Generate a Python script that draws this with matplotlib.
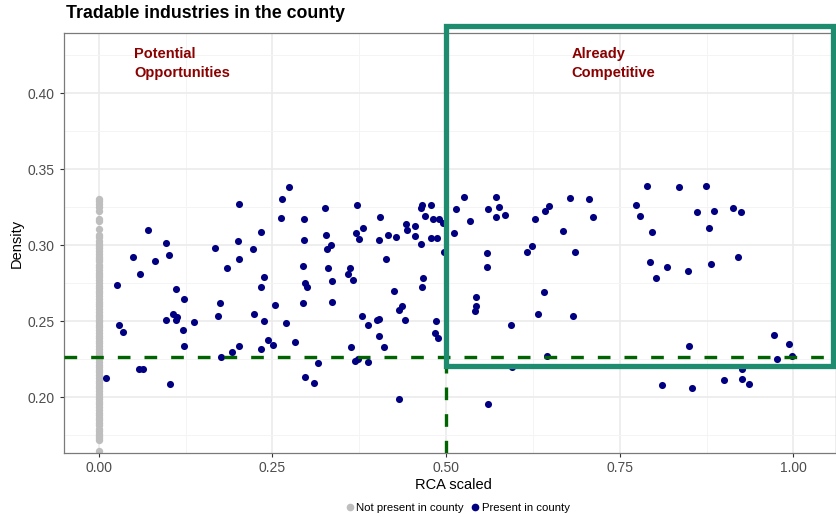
import numpy as np
import matplotlib
matplotlib.use("Agg")
import matplotlib.pyplot as plt
from matplotlib.patches import Rectangle
from matplotlib.lines import Line2D

plt.rcParams['font.family'] = ['Liberation Sans', 'DejaVu Sans']

# industries present in the county (RCA scaled, density)
present_rca = [
    0.0102, 0.0262, 0.0289, 0.0347, 0.0489, 0.0584, 0.0638, 0.0599, 0.0705, 0.0806,
    0.0973, 0.1015, 0.0969, 0.1031, 0.1062, 0.1120, 0.1108, 0.1113, 0.1231, 0.1218,
    0.1228, 0.1375, 0.1674, 0.1710, 0.1749, 0.1753, 0.1840, 0.1914, 0.1998, 0.2024,
    0.2022, 0.2024, 0.2214, 0.2233, 0.2339, 0.2343, 0.2377, 0.2372, 0.2343, 0.2441,
    0.2505, 0.2541, 0.2620, 0.2641, 0.2739, 0.2696, 0.2830, 0.2941, 0.2958, 0.2960,
    0.2967, 0.2991, 0.2944, 0.2965, 0.3102, 0.3157, 0.3250, 0.3275, 0.3340, 0.3289,
    0.3296, 0.3351, 0.3355, 0.3589, 0.3622, 0.3665, 0.3636, 0.3699, 0.3743, 0.3718,
    0.3689, 0.3725, 0.3797, 0.3794, 0.3876, 0.3881, 0.4002, 0.4028, 0.4035, 0.4045,
    0.4035, 0.4104, 0.4138, 0.4157, 0.4248, 0.4282, 0.4326, 0.4327, 0.4363, 0.4405,
    0.4419, 0.4442, 0.4549, 0.4557, 0.4632, 0.4644, 0.4657, 0.4788, 0.4701, 0.4657,
    0.4675, 0.4816, 0.4896, 0.4949, 0.4783, 0.4873, 0.4966, 0.4848, 0.4837, 0.4877,
    0.5148, 0.5263, 0.5338, 0.5119, 0.5597, 0.5722, 0.5765, 0.5716, 0.5853, 0.5590,
    0.5585, 0.5427, 0.5431, 0.5421, 0.5932, 0.5946, 0.5607, 0.6161, 0.6240, 0.6280,
    0.6427, 0.6475, 0.6410, 0.6326, 0.6457, 0.6676, 0.6791, 0.7051, 0.7112, 0.6849,
    0.6823, 0.7737, 0.7792, 0.7893, 0.7969, 0.7940, 0.8015, 0.8176, 0.8112, 0.8349,
    0.8487, 0.8493, 0.8536, 0.8612, 0.8742, 0.8781, 0.8857, 0.8818, 0.9001, 0.9130,
    0.9241, 0.9200, 0.9260, 0.9260, 0.9365, 0.9725, 0.9767, 0.9937, 0.9973,
]
present_density = [
    0.2130, 0.2736, 0.2476, 0.2430, 0.2923, 0.2184, 0.2184, 0.2814, 0.3101, 0.2900,
    0.3013, 0.2936, 0.2507, 0.2091, 0.2548, 0.2530, 0.2512, 0.2712, 0.2645, 0.2446,
    0.2338, 0.2495, 0.2984, 0.2535, 0.2622, 0.2268, 0.2853, 0.2300, 0.3028, 0.3275,
    0.2907, 0.2339, 0.2974, 0.2548, 0.3086, 0.2726, 0.2791, 0.2501, 0.2318, 0.2376,
    0.2342, 0.2607, 0.3178, 0.3305, 0.3386, 0.2487, 0.2364, 0.2865, 0.3171, 0.3033,
    0.2750, 0.2729, 0.2619, 0.2136, 0.2097, 0.2226, 0.3245, 0.3066, 0.3003, 0.2974,
    0.2849, 0.2768, 0.2625, 0.2810, 0.2851, 0.2772, 0.2330, 0.3080, 0.3043, 0.3265,
    0.2242, 0.2253, 0.3111, 0.2537, 0.2474, 0.2234, 0.2509, 0.2518, 0.2405, 0.3186,
    0.3033, 0.2330, 0.2913, 0.3070, 0.2699, 0.3053, 0.1990, 0.2576, 0.2599, 0.2511,
    0.3140, 0.3099, 0.3063, 0.3128, 0.3012, 0.3243, 0.3265, 0.3263, 0.3194, 0.2727,
    0.2783, 0.3172, 0.3175, 0.3147, 0.3048, 0.3051, 0.2954, 0.2502, 0.2425, 0.2389,
    0.3239, 0.3321, 0.3162, 0.3083, 0.3237, 0.3316, 0.3253, 0.3186, 0.3197, 0.2947,
    0.2859, 0.2662, 0.2601, 0.2571, 0.2477, 0.2198, 0.1958, 0.2956, 0.2995, 0.3171,
    0.3227, 0.3257, 0.2695, 0.2550, 0.2270, 0.3097, 0.3313, 0.3305, 0.3186, 0.2955,
    0.2536, 0.3263, 0.3196, 0.3388, 0.3088, 0.2889, 0.2783, 0.2855, 0.2081, 0.3382,
    0.2830, 0.2336, 0.2063, 0.3219, 0.3392, 0.3112, 0.3226, 0.2877, 0.2112, 0.3244,
    0.3218, 0.2923, 0.2186, 0.2120, 0.2086, 0.2411, 0.2250, 0.2352, 0.2270,
]

# industries not present in the county (all at RCA = 0)
absent_density = [
    0.3305, 0.3290, 0.3270, 0.3250, 0.3225, 0.3175, 0.3160, 0.3110, 0.3070, 0.3055,
    0.3030, 0.3010, 0.2995, 0.2980, 0.2960, 0.2945, 0.2925, 0.2910, 0.2895, 0.2870,
    0.2855, 0.2840, 0.2820, 0.2805, 0.2790, 0.2770, 0.2750, 0.2735, 0.2720, 0.2700,
    0.2685, 0.2665, 0.2650, 0.2630, 0.2615, 0.2600, 0.2580, 0.2560, 0.2545, 0.2530,
    0.2510, 0.2495, 0.2475, 0.2460, 0.2440, 0.2425, 0.2405, 0.2390, 0.2370, 0.2355,
    0.2335, 0.2320, 0.2300, 0.2285, 0.2270, 0.2250, 0.2235, 0.2215, 0.2200, 0.2180,
    0.2165, 0.2145, 0.2130, 0.2110, 0.2095, 0.2075, 0.2060, 0.2040, 0.2025, 0.2005,
    0.1990, 0.1970, 0.1955, 0.1935, 0.1920, 0.1900, 0.1885, 0.1865, 0.1850, 0.1830,
    0.1815, 0.1795, 0.1780, 0.1760, 0.1745, 0.1730, 0.1720, 0.1645,
]
absent_rca = [0.0] * len(absent_density)

density_cut = 0.2263
rca_cut = 0.5

x_ticks = [0.00, 0.25, 0.50, 0.75, 1.00]
y_ticks = [0.20, 0.25, 0.30, 0.35, 0.40]

fig = plt.figure(figsize=(8.36, 5.17), dpi=100)
ax = fig.add_axes([64 / 836, 1 - 453 / 517, (836 - 64) / 836, (453 - 33) / 517])

ax.set_xlim(-0.05, 1.0613)
ax.set_ylim(0.1634, 0.4397)
ax.set_xticks(x_ticks)
ax.set_xticklabels([f"{t:.2f}" for t in x_ticks])
ax.set_yticks(y_ticks)
ax.set_yticklabels([f"{t:.2f}" for t in y_ticks])
ax.set_xticks(np.arange(0.125, 1.06, 0.25), minor=True)
ax.set_yticks(np.arange(0.175, 0.44, 0.05), minor=True)

ax.grid(which='major', color='#EBEBEB', lw=1.2)
ax.grid(which='minor', color='#F4F4F4', lw=0.7)
ax.set_axisbelow(True)
ax.tick_params(which='major', length=3, color='#333333', labelcolor='#4D4D4D',
               labelsize=10, pad=3)
ax.tick_params(axis='y', pad=3.5)
ax.tick_params(which='minor', length=0)
for s in ax.spines.values():
    s.set_color('#7A7A7A')
    s.set_linewidth(0.9)

ax.scatter(absent_rca, absent_density, s=28, color='#BEBEBE', linewidths=0, zorder=2)
ax.scatter(present_rca, present_density, s=26, color='#000080', linewidths=0, zorder=3)

# threshold lines
ax.axhline(density_cut, color='#006400', lw=2.4, dashes=(3.8, 4.2), zorder=4)
ax.plot([rca_cut, rca_cut], [0.1634, density_cut], color='#006400', lw=2.4,
        dashes=(3.8, 4.2), zorder=4)

# highlighted quadrant
box = Rectangle((rca_cut, 0.2208), 1.057 - rca_cut, 0.4441 - 0.2208, fill=False,
                edgecolor='#1E8C6E', lw=3.8, clip_on=False, zorder=5)
ax.add_patch(box)

ax.text(0.051, 0.4305, "Potential\nOpportunities", color='#8B0000', fontsize=10.5,
        fontweight='bold', va='top', ha='left', linespacing=1.5)
ax.text(0.681, 0.4305, "Already\nCompetitive", color='#8B0000', fontsize=10.5,
        fontweight='bold', va='top', ha='left', linespacing=1.5)

fig.text(66 / 836, 1 - 14 / 517, "Tradable industries in the county", fontsize=12.8,
         fontweight='bold', va='center', ha='left')
fig.text(453 / 836, 1 - 485 / 517, "RCA scaled", fontsize=10.5, va='center', ha='center')
fig.text(17 / 836, 1 - 243 / 517, "Density", fontsize=10.5, va='center', ha='center',
         rotation=90)

handles = [
    Line2D([], [], marker='o', ls='', color='#BEBEBE', markersize=4.5),
    Line2D([], [], marker='o', ls='', color='#000080', markersize=4.5),
]
fig.legend(handles, ["Not present in county", "Present in county"], loc='center',
           bbox_to_anchor=(457 / 836, 1 - 508 / 517), ncol=2, frameon=False,
           fontsize=8.2, handletextpad=0.1, columnspacing=0.5, handlelength=1.0)

fig.savefig('out.png', dpi=100)
